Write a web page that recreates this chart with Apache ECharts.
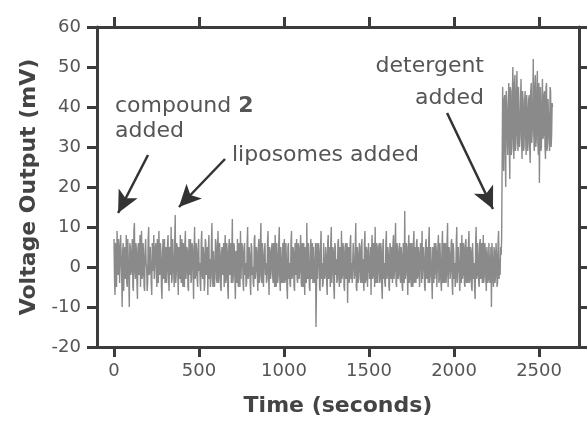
<!DOCTYPE html>
<html>
<head>
<meta charset="utf-8">
<script src="https://cdn.jsdelivr.net/npm/echarts@6/dist/echarts.min.js"></script>
<style>
html,body{margin:0;padding:0;background:#fff;}
#chart{width:587px;height:425px;}
</style>
</head>
<body>
<div id="chart"></div>
<script>
// ---- data ----
const sampleStep = 6;          // seconds between samples of one array
const baselineStart = 0;       // s, first sample of baselineValues
const baselineMidStart = 3;    // s, first sample of baselineMidValues
const detergentStart = 2286;   // s, first sample of detergentValues
const detergentMidStart = 2289;// s, first sample of detergentMidValues
// voltage (mV) before detergent at 0, 6, 12 ... 2280 s
const baselineValues = [
  7,-7,4,9,-2,5,-4,3,-10,6,0,-3,8,-5,2,-10,5,-1,7,-6,
  11,-3,4,-8,6,1,-5,9,-2,3,-6,7,0,-4,10,-1,5,-7,2,8,
  -3,6,-5,1,9,-2,4,-8,7,0,-4,5,-1,8,-6,3,10,-3,2,-5,
  13,-2,5,-7,3,8,-4,1,6,-5,9,-1,4,-6,2,7,-3,5,-8,10,
  -2,4,-5,7,1,-6,9,-3,3,-4,6,0,-7,8,2,-3,11,-5,4,-1,
  6,-4,9,-2,3,-6,5,1,-5,8,-3,4,-8,7,0,-4,12,-2,5,-8,
  3,7,-5,2,9,-3,4,-6,6,1,-4,10,-2,3,-7,5,0,-5,8,-1,
  4,-6,7,-2,11,-4,3,-5,6,1,-3,9,-7,4,-1,6,-4,2,8,-5,
  3,-2,10,-6,5,0,-4,7,-3,2,-8,6,1,-5,9,-2,4,-6,3,7,
  -4,5,-1,8,-5,2,6,-7,3,11,-3,1,-6,7,0,-4,5,-2,-15,6,
  -3,4,-6,9,1,-4,6,-2,3,-7,8,0,-5,10,-1,4,-8,5,2,-3,
  7,-5,3,9,-2,4,-6,6,0,-9,5,-3,8,1,-4,6,-2,11,-6,3,
  -1,5,-4,7,2,-6,9,-3,4,-5,6,0,-7,8,-2,3,10,-4,5,-1,
  6,-3,4,-8,7,1,-5,9,-2,3,-6,5,0,-4,8,-1,11,-5,4,-2,
  6,-4,3,-6,5,14,-2,5,-7,8,1,-3,6,-5,9,0,-4,7,-2,3,
  -5,4,9,-3,2,-6,7,0,-4,10,-2,5,-8,3,6,-1,4,-5,8,-3,
  2,-6,9,0,-4,6,-2,11,-5,3,-1,7,-7,4,1,-3,10,-4,5,-6,
  3,8,-2,5,-5,7,0,-4,9,-3,4,-6,6,1,-8,10,-2,3,-5,7,
  0,-4,8,-2,4,-6,3,-3,6,-1,-10,2,-5,4,-2,3,-4,9,2,5,
  7
];
// voltage (mV) before detergent at 3, 9, 15 ... 2277 s
const baselineMidValues = [
  -3,6,-5,2,7,-4,8,-2,4,-6,5,-1,-4,7,-3,6,-2,4,-5,9,
  -1,6,-4,5,-2,8,3,-3,6,-5,4,1,-6,7,-2,5,-4,6,-1,-3,
  5,-2,7,-4,3,6,-5,2,-3,7,1,-4,6,-3,5,-2,-4,7,-1,6,
  -4,6,-1,5,-3,-2,7,-5,-1,6,-3,5,-5,7,-2,-4,6,0,4,-3,
  6,-3,5,-1,-4,6,-2,5,-6,7,-2,5,4,-3,-5,6,-2,4,-5,7,
  -3,5,-4,6,-5,4,-2,6,3,-4,6,-5,5,-2,6,3,-4,6,-3,4,
  -4,-2,6,-5,-3,6,-4,5,-2,-5,6,-3,5,-4,6,-2,-4,7,-3,5,
  -2,5,-4,6,-3,6,-5,4,-2,-4,6,-2,5,-3,5,-2,6,-5,-2,6,
  -4,6,-3,5,-4,6,5,-4,6,-5,5,-3,-4,6,-3,5,-5,6,-2,-3,
  6,-3,5,-4,6,-5,-2,5,-4,-2,6,-5,5,-3,6,5,-4,6,-5,-3,
  6,-5,5,-3,-5,6,-3,5,-4,6,-3,5,6,-4,5,-5,6,-2,-4,6,
  -3,5,-4,-3,6,-5,5,-3,6,4,-4,6,-3,-4,6,-3,5,-5,5,-4,
  6,-3,5,-4,-3,6,-4,5,-5,6,-3,5,4,-3,6,-5,-3,6,-4,5,
  -4,6,-5,5,-3,-4,6,-3,5,-5,6,-3,5,6,-3,5,-4,6,-3,5,
  -3,5,-5,6,-4,-3,6,-2,5,-4,6,-5,-3,6,-4,5,6,-3,5,-5,
  6,-4,-3,5,-5,6,-3,5,6,-4,5,-3,5,-4,-3,6,-5,5,-4,6,
  -4,5,-4,6,5,-4,6,-5,5,-3,6,-4,6,-3,-5,6,-4,5,-3,6,
  -4,-3,6,-4,6,-4,5,6,-4,5,-5,6,-3,-5,6,-3,6,-4,6,-3,
  6,-3,-4,6,-3,5,-4,6,-4,5,6,-3,5,-4,6,-5,6,-3,-2,3
];
// voltage (mV) after detergent at 2286, 2292 ... 2580 s
const detergentValues = [
  45,24,43,20,40,28,46,22,44,30,
  50,27,48,31,49,29,45,33,47,27,
  42,30,44,28,40,31,43,26,46,34,
  52,29,48,32,49,28,21,45,30,47,
  33,44,27,46,31,42,29,44,33,40
];
// voltage (mV) after detergent at 2289, 2295 ... 2577 s
const detergentMidValues = [
  30,42,29,44,33,41,30,45,28,43,
  32,46,29,44,33,45,30,42,32,44,
  29,41,33,43,29,42,30,44,31,40,
  33,45,30,44,31,46,35,29,41,32,
  43,30,45,29,42,32,45,30,41
];
const xTicks = [0, 500, 1000, 1500, 2000, 2500];
const xRange = [-100, 2735];
const yRange = [-20, 60];
const yStep = 10;
// annotation arrows (data coordinates): tail -> tip
const arrowTails = [[200, 28], [653, 27], [1959, 38.5]];
const arrowTips  = [[24, 13.5], [382, 15], [2229, 14.5]];

// ---- build ----
function interleave(a, aStart, b, bStart) {
  const out = [];
  for (let i = 0; i < a.length; i++) {
    out.push([aStart + i * sampleStep, a[i]]);
    if (i < b.length) out.push([bStart + i * sampleStep, b[i]]);
  }
  return out;
}
const seriesData = interleave(baselineValues, baselineStart, baselineMidValues, baselineMidStart)
  .concat(interleave(detergentValues, detergentStart, detergentMidValues, detergentMidStart));

const axisColor = '#3c3c3c';
const font = 'DejaVu Sans';

function xAxisCfg(pos, labels) {
  return {
    type: 'value', position: pos, min: xRange[0], max: xRange[1],
    axisLine: { show: true, onZero: false, lineStyle: { color: axisColor, width: 3 } },
    axisTick: { show: true, inside: false, length: 10, customValues: xTicks,
      lineStyle: { color: axisColor, width: 3 } },
    axisLabel: { show: labels, customValues: xTicks, fontSize: 18, fontFamily: font,
      color: '#555', margin: 15, formatter: v => String(v) },
    splitLine: { show: false }
  };
}
function yAxisCfg(pos, labels) {
  return {
    type: 'value', position: pos, min: yRange[0], max: yRange[1], interval: yStep,
    axisLine: { show: true, onZero: false, lineStyle: { color: axisColor, width: 3 } },
    axisTick: { show: true, inside: false, length: 10, lineStyle: { color: axisColor, width: 3 } },
    axisLabel: { show: labels, fontSize: 18, fontFamily: font, color: '#555', margin: 16 },
    splitLine: { show: false }
  };
}

const xb = xAxisCfg('bottom', true);
xb.name = 'Time (seconds)';
xb.nameLocation = 'middle';
xb.nameGap = 48;
xb.nameTextStyle = { fontSize: 22, fontWeight: 'bold', fontFamily: font, color: '#444' };
const yl = yAxisCfg('left', true);
yl.name = 'Voltage Output (mV)';
yl.nameLocation = 'middle';
yl.nameGap = 55;
yl.nameTextStyle = { fontSize: 22, fontWeight: 'bold', fontFamily: font, color: '#444' };

const textStyle = { fontSize: 22, fontFamily: font, fill: '#555' };

const chart = echarts.init(document.getElementById('chart'));
chart.setOption({
  animation: false,
  backgroundColor: '#fff',
  grid: { left: 97, right: 8, top: 27, bottom: 78 },
  xAxis: [xb, xAxisCfg('top', false)],
  yAxis: [yl, yAxisCfg('right', false)],
  series: [{
    type: 'line',
    xAxisIndex: 0, yAxisIndex: 0,
    data: seriesData,
    showSymbol: false,
    sampling: null,
    lineStyle: { color: '#8a8a8a', width: 1.4 },
    silent: true,
    markLine: {
      silent: true,
      animation: false,
      symbol: ['none', 'arrow'],
      symbolSize: [16, 22],
      label: { show: false },
      lineStyle: { color: '#333', width: 2.5, type: 'solid' },
      emphasis: { disabled: true },
      data: arrowTails.map((t, i) => [{ coord: t }, { coord: arrowTips[i] }])
    }
  }],
  graphic: [
    { type: 'text', left: 115, top: 94,
      style: Object.assign({ text: 'compound {b|2}\nadded', lineHeight: 25,
        rich: { b: { fontSize: 22, fontFamily: font, fontWeight: 'bold', fill: '#555', lineHeight: 25 } } }, textStyle) },
    { type: 'text', left: 232, top: 144,
      style: Object.assign({ text: 'liposomes added' }, textStyle) },
    { type: 'text', right: 103, top: 55,
      style: Object.assign({ text: 'detergent' }, textStyle) },
    { type: 'text', right: 103, top: 87,
      style: Object.assign({ text: 'added' }, textStyle) }
  ]
});
</script>
</body>
</html>
